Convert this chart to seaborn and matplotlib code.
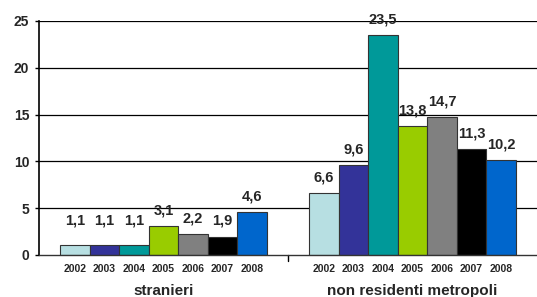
import matplotlib
matplotlib.use("Agg")
import matplotlib.pyplot as plt
import seaborn as sns
import pandas as pd

categories = ["stranieri", "non residenti metropoli"]
years = ["2002", "2003", "2004", "2005", "2006", "2007", "2008"]
stranieri = [1.1, 1.1, 1.1, 3.1, 2.2, 1.9, 4.6]
non_residenti = [6.6, 9.6, 23.5, 13.8, 14.7, 11.3, 10.2]
colors = ["#B7DFE2", "#333399", "#009999", "#99CC00", "#808080", "#000000", "#0066CC"]
yticks = [0, 5, 10, 15, 20, 25]

rows = []
for cat, vals in zip(categories, [stranieri, non_residenti]):
    for y, v in zip(years, vals):
        rows.append({"cat": cat, "year": y, "val": v})
df = pd.DataFrame(rows)

sns.set_theme(style="white")
plt.rcParams['font.family'] = ['Liberation Sans', 'DejaVu Sans']

fig = plt.figure(figsize=(5.37, 2.97), dpi=100)
ax = fig.add_axes([39/537, 1-255/297, 1-39/537, (255-21)/297])

sns.barplot(data=df, x="cat", y="val", hue="year", palette=colors, order=categories,
            hue_order=years, width=0.83, edgecolor="#333333", linewidth=0.8,
            legend=False, ax=ax, saturation=1)

ax.set_ylim(0, 25)
ax.set_xlim(-0.5, 1.5)
ax.set_yticks(yticks)
ax.set_yticklabels([str(t) for t in yticks], fontsize=10, fontweight="bold")
for t in yticks[1:]:
    ax.axhline(t, color="#000000", lw=0.9, zorder=0)
ax.set_axisbelow(True)

ax.set_xticks([0, 1])
ax.set_xticklabels(categories, fontsize=11, fontweight="bold")
ax.tick_params(axis="x", length=0, pad=21)
ax.tick_params(axis="y", length=3, width=1, color="#000000", direction="out", pad=4, left=True)
ax.set_xlabel("")
ax.set_ylabel("")

for s in ["top", "right"]:
    ax.spines[s].set_visible(False)
ax.spines["left"].set_color("#000000")
ax.spines["left"].set_linewidth(1.2)
ax.spines["bottom"].set_color("#333333")
ax.spines["bottom"].set_linewidth(1.0)

# separator tick between categories
ax.plot([0.5, 0.5], [0, -0.6], color="#000000", lw=1, clip_on=False)

patches = sorted([p for p in ax.patches if p.get_height() > 0], key=lambda p: p.get_x())
for p in patches:
    cx = p.get_x() + p.get_width() / 2
    h = p.get_height()
    lab = f"{h:.1f}".replace(".", ",")
    ax.text(cx, max(h, 2.0) + 0.9, lab, ha="center", va="bottom", fontsize=10.5,
            fontweight="bold")
for i, p in enumerate(patches):
    cx = p.get_x() + p.get_width() / 2
    ax.text(cx, -1.0, years[i % len(years)], ha="center", va="top", fontsize=7.5,
            fontweight="bold")

fig.savefig("out.png", dpi=100)
